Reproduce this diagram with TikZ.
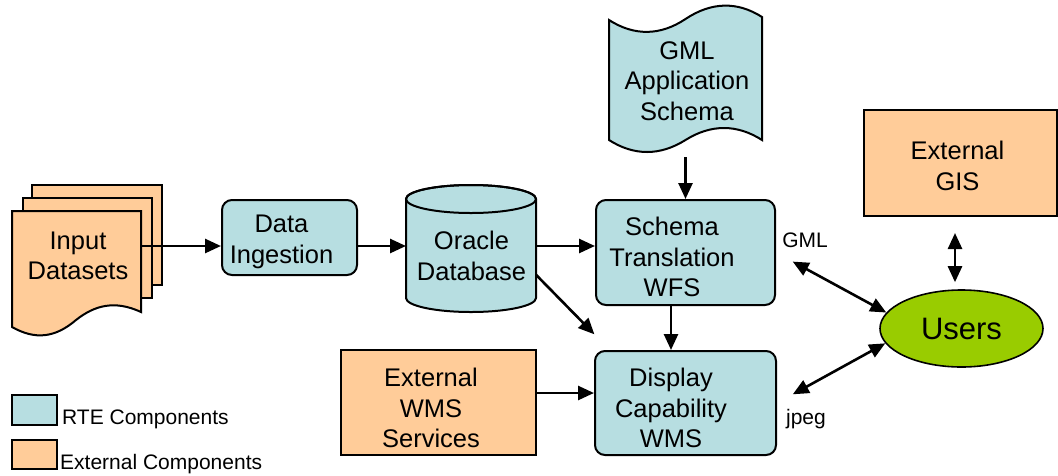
\documentclass[tikz,border=0pt]{standalone}
\usepackage{fontspec}
\setmainfont{Liberation Sans}
\usetikzlibrary{arrows.meta,shapes.geometric}
\definecolor{rteblue}{HTML}{B7DEE1}
\definecolor{extorange}{HTML}{FFCC99}
\definecolor{usergreen}{HTML}{99CC00}
\begin{document}
\begin{tikzpicture}[x=1pt,y=-1pt,
  rtebox/.style={draw, line width=2pt, fill=rteblue, rounded corners=10pt, inner sep=0pt},
  extbox/.style={draw, line width=2pt, fill=extorange, inner sep=0pt},
  outline/.style={draw, line width=2pt},
  area/.style={inner sep=0pt, outer sep=0pt},
  lbl/.style={font=\fontsize{25.5}{30.5}\selectfont, align=center, inner sep=0pt},
  small/.style={font=\fontsize{21}{25}\selectfont, inner sep=0pt},
  flow/.style={line width=2.6pt, -{Triangle[length=16pt,width=14pt]}},
  both/.style={line width=2.6pt, {Triangle[length=16pt,width=14pt]}-{Triangle[length=16pt,width=14pt]}}]
\useasboundingbox (0,0) rectangle (1058,475);

% stacked input documents
\node[extbox, minimum width=130pt, minimum height=100pt] (doc3) at (97,235) {};
\node[extbox, minimum width=129pt, minimum height=100pt] (doc2) at (87.5,248) {};
\draw[outline, fill=extorange] (12,211) -- (141,211) -- (141,312)
  .. controls (115,300) and (95,305) .. (76,320)
  .. controls (55,338) and (35,340) .. (12,327) -- cycle;
\node[area, minimum width=129pt, minimum height=116pt] (front) at (76.5,269) {};
\node[lbl] (inputtext) at (78,256) {Input\\Datasets};

% data ingestion
\node[rtebox, minimum width=135pt, minimum height=75pt] (ingest) at (289.5,237.5) {};
\node[lbl] (ingesttext) at (281.5,242) {Data\\Ingestion};

% oracle database cylinder
\draw[outline, fill=rteblue] (406,199) -- (406,298)
  arc[start angle=180, end angle=360, x radius=65pt, y radius=14pt] -- (536,199)
  arc[start angle=0, end angle=180, x radius=65pt, y radius=14pt] -- cycle;
\draw[line width=2pt] (471,199) ellipse[x radius=65pt, y radius=14pt];
\node[area, minimum width=130pt, minimum height=127pt] (db) at (471,248.5) {};
\node[lbl] (dbtext) at (471.5,256) {Oracle\\Database};

% GML application schema (tape)
\draw[outline, fill=rteblue] (609,20)
  .. controls (634,36) and (660,36) .. (685.5,19)
  .. controls (711,2) and (737,1) .. (762,17) -- (762,140)
  .. controls (737,124) and (711,124) .. (685.5,140)
  .. controls (660,156) and (634,156) .. (609,140) -- cycle;
\node[area, minimum width=153pt, minimum height=140pt] (gml) at (685.5,87) {};
\node[lbl] (gmltext) at (687,81) {GML\\Application\\Schema};

% services
\node[rtebox, minimum width=179pt, minimum height=105pt] (schema) at (685.5,252.5) {};
\node[lbl] (schematext) at (672,257) {Schema\\Translation\\WFS};
\node[rtebox, minimum width=181pt, minimum height=104pt] (disp) at (685.5,403) {};
\node[lbl] (disptext) at (671,408) {Display\\Capability\\WMS};
\node[extbox, minimum width=195pt, minimum height=105pt] (wms) at (438.5,402.5) {};
\node[lbl] (wmstext) at (431,408) {External\\WMS\\Services};
\node[extbox, minimum width=193pt, minimum height=106pt] (gis) at (960.5,163) {};
\node[lbl] (gistext) at (957.5,166) {External\\GIS};
\node[ellipse, draw, line width=1.6pt, fill=usergreen, minimum width=163pt, minimum height=77pt,
  font=\fontsize{31}{36}\selectfont] (users) at (961.5,328.5) {Users};

% output format labels
\node[small] (gmllbl) at (805,240) {GML};
\node[small] (jpeglbl) at (806,419) {jpeg};

% legend
\node[draw, line width=2pt, fill=rteblue, minimum width=45pt, minimum height=30pt] (legrte) at (34.5,410) {};
\node[draw, line width=2pt, fill=extorange, minimum width=45pt, minimum height=29pt] (legext) at (34.5,454.5) {};
\node[small, anchor=base west] (legrtetext) at (62,424) {RTE Components};
\node[small, anchor=base west] (legexttext) at (60,469) {External Components};

% connectors
\coordinate (rowA) at (0,246);
\coordinate (rowB) at (0,393);
\draw[flow] (front.east |- rowA) -- (ingest.west |- rowA);
\draw[flow] (ingest.east |- rowA) -- (db.west |- rowA);
\draw[flow] (db.east |- rowA) -- (schema.west |- rowA);
\draw[flow] (gml.south) -- (schema.north);
\draw[flow] ([xshift=-14.5pt]schema.south) -- ([xshift=-14.5pt]disp.north);
\draw[flow, shorten >=22pt] (db.-22) -- (disp.145);
\draw[flow] (wms.east |- rowB) -- (disp.west |- rowB);
\draw[both, shorten <=19pt] (schema.east) -- (users.168);
\draw[both, shorten <=18pt] (disp.east) -- (users.191);
\draw[both, shorten <=16pt, shorten >=7pt] ([xshift=-5.5pt]gis.south) -- ([xshift=-6.5pt]users.north);
\end{tikzpicture}
\end{document}
